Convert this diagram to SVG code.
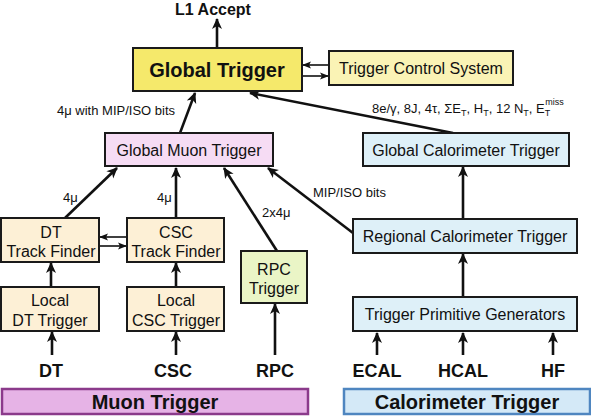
<svg xmlns="http://www.w3.org/2000/svg" width="591" height="416" viewBox="0 0 591 416">
<defs>
<style>
.box{stroke:#1a1a1a;stroke-width:2}
.t{font-family:"Liberation Sans",Arial,sans-serif;fill:#111;text-anchor:middle}
.b{font-weight:bold}
.c{stroke:#111;stroke-width:2.6;fill:none;marker-end:url(#ah)}
.s{stroke:#111;stroke-width:1.6;fill:none;marker-end:url(#sh)}
.lbl{font-family:"Liberation Sans",Arial,sans-serif;fill:#111;font-size:13px}
</style>
<marker id="ah" markerUnits="userSpaceOnUse" markerWidth="12" markerHeight="12" viewBox="0 0 12 12" refX="10" refY="6" orient="auto"><path d="M0,1 L11,6 L0,11 L3,6 z" fill="#111"/></marker>
<marker id="sh" markerUnits="userSpaceOnUse" markerWidth="9" markerHeight="8" viewBox="0 0 9 8" refX="8" refY="4" orient="auto"><path d="M0,0.5 L9,4 L0,7.5 L2,4 z" fill="#111"/></marker>
</defs>
<rect width="591" height="416" fill="#fff"/>

<g id="connectors">
<line class="c" x1="217" y1="47" x2="217" y2="19"/>
<line class="c" x1="180" y1="133" x2="195" y2="93"/>
<line class="c" x1="453" y1="133" x2="250" y2="93"/>
<line class="s" x1="329" y1="65" x2="303" y2="65"/>
<line class="s" x1="303" y1="76" x2="328" y2="76"/>
<line class="c" x1="65" y1="218" x2="117" y2="168"/>
<line class="c" x1="176" y1="218" x2="176" y2="168"/>
<line class="c" x1="277" y1="251" x2="224" y2="168"/>
<line class="c" x1="353" y1="233" x2="268" y2="168"/>
<line class="s" x1="127" y1="237" x2="100" y2="237"/>
<line class="s" x1="100" y1="246" x2="126" y2="246"/>
<line class="c" x1="51" y1="287" x2="51" y2="263"/>
<line class="c" x1="176" y1="287" x2="176" y2="263"/>
<line class="c" x1="52" y1="355" x2="52" y2="332"/>
<line class="c" x1="176" y1="355" x2="176" y2="332"/>
<line class="c" x1="275" y1="355" x2="275" y2="304"/>
<line class="c" x1="463" y1="219" x2="463" y2="167"/>
<line class="c" x1="463" y1="297" x2="463" y2="254"/>
<line class="c" x1="377" y1="355" x2="377" y2="333"/>
<line class="c" x1="463" y1="355" x2="463" y2="333"/>
<line class="c" x1="553" y1="355" x2="553" y2="333"/>
<text class="lbl" x="57" y="115">4μ with MIP/ISO bits</text>
<text class="lbl" x="372" y="113">8e/γ, 8J, 4τ, ΣE<tspan font-size="9" dy="3">T</tspan><tspan dy="-3">, H</tspan><tspan font-size="9" dy="3">T</tspan><tspan dy="-3">, 12 N</tspan><tspan font-size="9" dy="3">T</tspan><tspan dy="-3">, E</tspan><tspan font-size="9" dy="3">T</tspan><tspan font-size="9" dx="-5" dy="-11">miss</tspan></text>
<text class="lbl" x="63" y="202">4μ</text>
<text class="lbl" x="157" y="202">4μ</text>
<text class="lbl" x="262" y="217">2x4μ</text>
<text class="lbl" x="313" y="197">MIP/ISO bits</text>
</g>

<g id="l1accept"><text class="t b" x="213" y="15" font-size="16">L1 Accept</text></g>

<g id="global-trigger">
<rect class="box" x="133" y="48" width="169" height="43" fill="#f5e96b"/>
<text class="t b" x="217" y="77" font-size="20">Global Trigger</text>
</g>
<g id="tcs">
<rect class="box" x="329" y="51" width="184" height="34" fill="#faf3b5"/>
<text class="t" x="421" y="74" font-size="16">Trigger Control System</text>
</g>
<g id="gmt">
<rect class="box" x="105" y="133" width="168" height="33" fill="#f6dcf4"/>
<text class="t" x="189" y="156" font-size="16">Global Muon Trigger</text>
</g>
<g id="gct">
<rect class="box" x="363" y="133" width="206" height="33" fill="#def0f8"/>
<text class="t" x="466" y="156" font-size="16">Global Calorimeter Trigger</text>
</g>
<g id="dt-tf">
<rect class="box" x="1" y="218" width="98" height="44" fill="#fdf0d6"/>
<text class="t" x="51" y="238" font-size="16">DT</text>
<text class="t" x="51" y="257" font-size="16">Track Finder</text>
</g>
<g id="csc-tf">
<rect class="box" x="127" y="218" width="97" height="44" fill="#fdf0d6"/>
<text class="t" x="176" y="238" font-size="16">CSC</text>
<text class="t" x="176" y="257" font-size="16">Track Finder</text>
</g>
<g id="rpc-trigger">
<rect class="box" x="241" y="251" width="66" height="52" fill="#eaf5c6"/>
<text class="t" x="274" y="275" font-size="16">RPC</text>
<text class="t" x="274" y="294" font-size="16">Trigger</text>
</g>
<g id="rct">
<rect class="box" x="353" y="219" width="224" height="34" fill="#def0f8"/>
<text class="t" x="465" y="242" font-size="16">Regional Calorimeter Trigger</text>
</g>
<g id="local-dt">
<rect class="box" x="1" y="287" width="98" height="44" fill="#fdf0d6"/>
<text class="t" x="50" y="306" font-size="16">Local</text>
<text class="t" x="50" y="326" font-size="16">DT Trigger</text>
</g>
<g id="local-csc">
<rect class="box" x="127" y="287" width="97" height="44" fill="#fdf0d6"/>
<text class="t" x="176" y="306" font-size="16">Local</text>
<text class="t" x="176" y="326" font-size="16">CSC Trigger</text>
</g>
<g id="tpg">
<rect class="box" x="353" y="297" width="224" height="34" fill="#def0f8"/>
<text class="t" x="465" y="320" font-size="16">Trigger Primitive Generators</text>
</g>
<g id="dt"><text class="t b" x="51" y="377" font-size="18">DT</text></g>
<g id="csc"><text class="t b" x="173" y="377" font-size="18">CSC</text></g>
<g id="rpc"><text class="t b" x="275" y="377" font-size="18">RPC</text></g>
<g id="ecal"><text class="t b" x="377" y="377" font-size="18">ECAL</text></g>
<g id="hcal"><text class="t b" x="463" y="377" font-size="18">HCAL</text></g>
<g id="hf"><text class="t b" x="553" y="377" font-size="18">HF</text></g>
<g id="muon-trigger">
<rect x="2" y="389" width="306" height="25" fill="#e6b3e6" stroke="#8b3a8b" stroke-width="2.5"/>
<text class="t b" x="155" y="409" font-size="20">Muon Trigger</text>
</g>
<g id="calorimeter-trigger">
<rect x="344" y="389" width="246" height="25" fill="#d4e9f7" stroke="#4f86c0" stroke-width="2.5"/>
<text class="t b" x="467" y="409" font-size="20">Calorimeter Trigger</text>
</g>
</svg>
